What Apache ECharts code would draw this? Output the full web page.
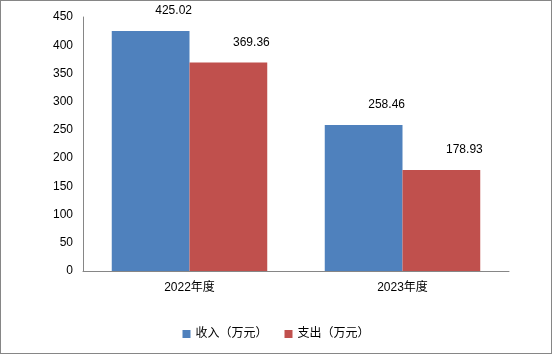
<!DOCTYPE html>
<html>
<head>
<meta charset="utf-8">
<script src="https://cdn.jsdelivr.net/npm/echarts@6/dist/echarts.min.js"></script>
<style>
  html, body { margin: 0; padding: 0; background: #fff; }
  #chart {
    width: 552px;
    height: 354px;
    box-sizing: border-box;
    border: 1px solid #868686;
  }
</style>
</head>
<body>
<div id="chart"></div>
<script>
const categories = ['2022年度', '2023年度']
const incomeValues = [425.02, 258.46]
const expenseValues = [369.36, 178.93]
const seriesNames = ['收入（万元）', '支出（万元）']

const chart = echarts.init(document.getElementById('chart'))
const font = "'Liberation Sans', 'Noto Sans CJK SC', sans-serif"
const axisGray = '#868686'

const barLabel = {
  show: true,
  position: 'top',
  offset: [23, -9],
  color: '#000',
  fontSize: 12,
  fontFamily: font,
  formatter: (p) => p.value.toFixed(2),
}

chart.setOption({
  animation: false,
  backgroundColor: '#fff',
  textStyle: { fontFamily: font },
  legend: {
    bottom: 8,
    left: 'center',
    itemWidth: 8,
    itemHeight: 8,
    itemGap: 17,
    icon: 'rect',
    textStyle: { color: '#000', fontSize: 12, fontFamily: font },
    data: seriesNames,
  },
  grid: { left: 82, right: 42, top: 16, bottom: 82 },
  xAxis: {
    type: 'category',
    data: categories,
    axisLine: { lineStyle: { color: axisGray } },
    axisTick: { show: false },
    axisLabel: { color: '#000', fontSize: 12, margin: 11 },
  },
  yAxis: {
    type: 'value',
    min: 0,
    max: 450,
    interval: 50,
    axisLine: { show: true, lineStyle: { color: axisGray } },
    axisTick: { show: false },
    splitLine: { show: false },
    axisLabel: { color: '#000', fontSize: 12, margin: 10 },
  },
  series: [
    {
      name: seriesNames[0],
      type: 'bar',
      data: incomeValues,
      barGap: '0%',
      barCategoryGap: '27%',
      itemStyle: { color: '#4F81BD' },
      label: barLabel,
    },
    {
      name: seriesNames[1],
      type: 'bar',
      data: expenseValues,
      itemStyle: { color: '#C0504D' },
      label: barLabel,
    },
  ],
})
</script>
</body>
</html>
